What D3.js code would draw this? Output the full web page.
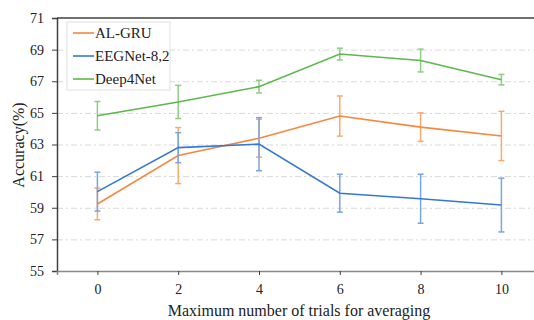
<!DOCTYPE html>
<html>
<head>
<meta charset="utf-8">
<script src="https://cdn.jsdelivr.net/npm/d3@7"></script>
<style>
  body { margin: 0; background: #fff; }
  svg, svg text { font-family: "Liberation Serif", "Times New Roman", "DejaVu Serif", serif !important; }
</style>
</head>
<body>
<div id="chart"></div>
<script>
// trials on the x axis
var trials = [0, 2, 4, 6, 8, 10];
var seriesNames = ["AL-GRU", "EEGNet-8,2", "Deep4Net"];
// mean accuracy and error (+/-) per series
var alGru = [59.24, 62.3, 63.4, 64.8, 64.1, 63.54];
var alGruErr = [1.0, 1.77, 1.2, 1.27, 0.9, 1.56];
var eegNet = [60.02, 62.8, 63.02, 59.92, 59.57, 59.17];
var eegNetErr = [1.23, 0.95, 1.68, 1.2, 1.55, 1.7];
var deep4 = [64.82, 65.69, 66.66, 68.72, 68.31, 67.1];
var deep4Err = [0.9, 1.05, 0.4, 0.37, 0.72, 0.33];
var yTicks = [55, 57, 59, 61, 63, 65, 67, 69, 71];
var xTicks = [0, 2, 4, 6, 8, 10];

function Chart() {
  var w = 534;
  var h = 320;
  var left = 57, top = 18, bottom = 271;

  var series = [
    { name: seriesNames[0], values: alGru, err: alGruErr, line: "#f5883e", bar: "#f9a970" },
    { name: seriesNames[1], values: eegNet, err: eegNetErr, line: "#3478d2", bar: "#78a6e0" },
    { name: seriesNames[2], values: deep4, err: deep4Err, line: "#5cb84c", bar: "#8fcc82" }
  ];

  var svg = d3.select("#chart").append("svg")
    .attr("width", w)
    .attr("height", h);

  var xScale = d3.scaleLinear().domain([-1, 11]).range([left, left + 12 * 40.4]);
  var yScale = d3.scaleLinear().domain([55, 71]).range([bottom, top]);

  // grid lines (dash-dot)
  svg.selectAll(".grid")
    .data(yTicks.filter(function (d) { return d > 55 && d < 71; }))
    .enter()
    .append("line")
    .attr("x1", left)
    .attr("x2", w)
    .attr("y1", function (d) { return yScale(d) + 0.5; })
    .attr("y2", function (d) { return yScale(d) + 0.5; })
    .attr("stroke", "#d9d9d9")
    .attr("stroke-width", 1)
    .attr("stroke-dasharray", "6,3,2,3");

  // y axis
  var yAxis = svg.append("g")
    .attr("transform", "translate(" + left + ",0)")
    .call(d3.axisLeft(yScale).tickValues(yTicks).tickSize(5).tickPadding(8));
  yAxis.attr("font-family", null);
  yAxis.select(".domain").attr("stroke", "#404040").attr("stroke-width", 1.5);
  yAxis.selectAll(".tick line").attr("stroke", "#404040");
  yAxis.selectAll("text").attr("font-size", 14).attr("fill", "#222");

  // x axis
  var xAxis = svg.append("g")
    .attr("transform", "translate(0," + bottom + ")")
    .call(d3.axisBottom(xScale).tickValues(xTicks).tickSize(4).tickPadding(9));
  xAxis.attr("font-family", null);
  xAxis.select(".domain").attr("stroke", "#888").attr("stroke-width", 1.5);
  xAxis.selectAll(".tick line").attr("stroke", "#404040");
  xAxis.selectAll("text").attr("font-size", 14).attr("fill", "#222");

  // top border
  svg.append("line")
    .attr("x1", left).attr("x2", w)
    .attr("y1", top).attr("y2", top)
    .attr("stroke", "#404040")
    .attr("stroke-width", 1.5);

  var line = d3.line()
    .x(function (d, i) { return xScale(trials[i]); })
    .y(function (d) { return yScale(d); });

  series.forEach(function (s) {
    var g = svg.append("g");
    // error bars
    s.values.forEach(function (v, i) {
      var x = xScale(trials[i]);
      var y1 = yScale(v + s.err[i]);
      var y2 = yScale(v - s.err[i]);
      g.append("line").attr("x1", x).attr("x2", x).attr("y1", y1).attr("y2", y2)
        .attr("stroke", s.bar).attr("stroke-width", 1.5);
      g.append("line").attr("x1", x - 3).attr("x2", x + 3).attr("y1", y1).attr("y2", y1)
        .attr("stroke", s.bar).attr("stroke-width", 1.5);
      g.append("line").attr("x1", x - 3).attr("x2", x + 3).attr("y1", y2).attr("y2", y2)
        .attr("stroke", s.bar).attr("stroke-width", 1.5);
    });
    g.append("path")
      .datum(s.values)
      .attr("d", line)
      .attr("fill", "none")
      .attr("stroke", s.line)
      .attr("stroke-width", 1.6);
  });

  // legend
  var legend = svg.append("g");
  legend.append("rect")
    .attr("x", 67).attr("y", 22)
    .attr("width", 103).attr("height", 68)
    .attr("fill", "#fff")
    .attr("stroke", "#e0e0e0");
  series.forEach(function (s, i) {
    var y = 33 + i * 23;
    legend.append("line")
      .attr("x1", 73).attr("x2", 94)
      .attr("y1", y).attr("y2", y)
      .attr("stroke", s.line).attr("stroke-width", 1.6);
    legend.append("text")
      .attr("x", 95).attr("y", y + 5)
      .attr("font-size", 15).attr("fill", "#222")
      .text(s.name);
  });

  // axis titles
  svg.append("text")
    .attr("x", 299).attr("y", 316)
    .attr("text-anchor", "middle")
    .attr("font-size", 16).attr("fill", "#222")
    .text("Maximum number of trials for averaging");
  svg.append("text")
    .attr("transform", "translate(24,145) rotate(-90)")
    .attr("text-anchor", "middle")
    .attr("font-size", 16).attr("fill", "#222")
    .text("Accuracy(%)");
}
window.onload = Chart;
</script>
</body>
</html>
